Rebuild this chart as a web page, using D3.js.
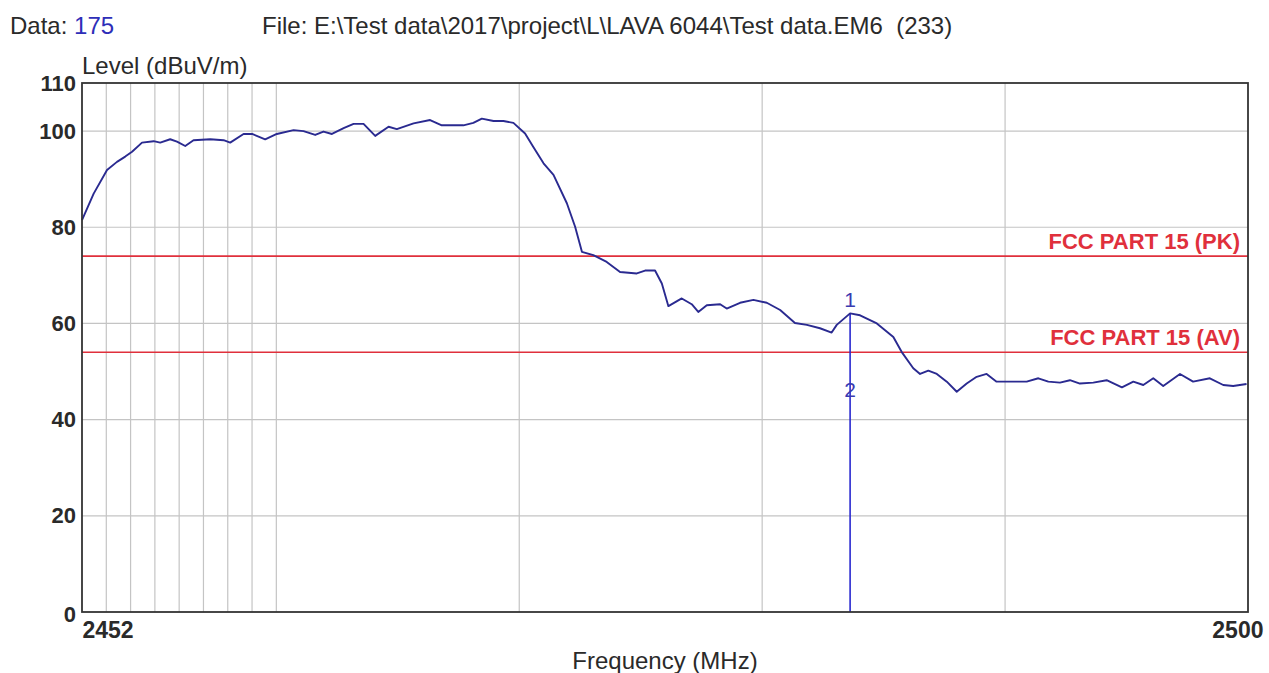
<!DOCTYPE html>
<html>
<head>
<meta charset="utf-8">
<script src="https://cdn.jsdelivr.net/npm/d3@7"></script>
<style>
  html, body { margin: 0; padding: 0; background: #ffffff; }
  svg { display: block; font-family: "Liberation Sans", Arial, sans-serif; }
</style>
</head>
<body>
<svg id="chart" width="1269" height="673"></svg>
<script>
// ---- data ----
const freqs = [
  2452.00, 2452.48, 2453.03, 2453.44, 2453.78, 2454.06, 2454.47, 2454.95, 2455.22, 2455.63,
  2455.91, 2456.25, 2456.59, 2457.28, 2457.83, 2458.10, 2458.65, 2459.00, 2459.54, 2460.02,
  2460.71, 2461.12, 2461.60, 2461.94, 2462.29, 2462.77, 2463.18, 2463.59, 2464.07, 2464.62,
  2464.96, 2465.65, 2466.33, 2466.81, 2467.70, 2468.11, 2468.46, 2468.94, 2469.35, 2469.76,
  2470.24, 2470.58, 2471.00, 2471.41, 2471.96, 2472.30, 2472.58, 2473.05, 2473.60, 2474.15,
  2474.84, 2475.18, 2475.59, 2475.87, 2476.14, 2476.69, 2477.10, 2477.37, 2477.72, 2478.27,
  2478.54, 2479.09, 2479.64, 2480.19, 2480.74, 2481.35, 2481.84, 2482.38, 2482.86, 2483.07,
  2483.62, 2484.03, 2484.72, 2485.40, 2485.74, 2486.22, 2486.50, 2486.84, 2487.19, 2487.60,
  2488.01, 2488.42, 2488.83, 2489.24, 2489.65, 2490.20, 2490.89, 2491.37, 2491.78, 2492.26,
  2492.67, 2493.08, 2493.63, 2494.18, 2494.81, 2495.28, 2495.69, 2496.10, 2496.51, 2497.20,
  2497.74, 2498.43, 2498.98, 2499.39, 2499.94
];
const levels = [
  81.5, 87.0, 91.9, 93.6, 94.7, 95.7, 97.6, 97.9, 97.6, 98.3,
  97.8, 96.9, 98.1, 98.3, 98.1, 97.6, 99.4, 99.4, 98.3, 99.4,
  100.2, 100.0, 99.2, 99.9, 99.4, 100.6, 101.5, 101.5, 99.0, 100.9,
  100.4, 101.6, 102.3, 101.2, 101.2, 101.7, 102.6, 102.1, 102.1, 101.7,
  99.5, 96.7, 93.3, 90.9, 85.0, 80.1, 74.9, 74.2, 72.8, 70.7,
  70.4, 71.0, 71.0, 68.3, 63.6, 65.2, 64.0, 62.4, 63.8, 64.0,
  63.1, 64.3, 64.9, 64.3, 62.8, 60.1, 59.7, 59.0, 58.1, 59.7,
  62.1, 61.7, 60.0, 57.2, 54.1, 50.7, 49.5, 50.2, 49.5, 47.9,
  45.8, 47.5, 48.9, 49.5, 47.9, 47.9, 47.9, 48.6, 47.9, 47.7,
  48.2, 47.5, 47.7, 48.2, 46.7, 47.9, 47.2, 48.6, 47.0, 49.5,
  47.9, 48.6, 47.2, 47.0, 47.4
];
const gridFreqs = [2453, 2454, 2455, 2456, 2457, 2458, 2459, 2460, 2470, 2480, 2490];
const xTickLabels = [2452, 2500];
const yTicks = [0, 20, 40, 60, 80, 100, 110];
const yGrid = [20, 40, 60, 80, 100];
const limitLevels = [74, 54];
const limitNames = ["FCC PART 15 (PK)", "FCC PART 15 (AV)"];
const markerFreq = 2483.62;
const markerLevels = [62.1, 43.5];
const markerNames = ["1", "2"];
const dataCount = "175";
const fileText = "File: E:\\Test data\\2017\\project\\L\\LAVA 6044\\Test data.EM6  (233)";

// ---- layout ----
const L = 82, R = 1248, T = 83, B = 612;
const svg = d3.select("#chart");
const x = d3.scaleLinear().domain([2452, 2500]).range([L, R]);
const y = d3.scaleLinear().domain([0, 110]).range([B, T]);

const textColor = "#2a2a2a";

// header
const hdr = svg.append("text").attr("x", 10).attr("y", 34)
  .attr("font-size", 24).attr("fill", textColor);
hdr.append("tspan").text("Data: ");
hdr.append("tspan").attr("fill", "#2e2eb8").text(dataCount);
svg.append("text").attr("x", 262).attr("y", 34)
  .attr("font-size", 24).attr("fill", textColor)
  .style("white-space", "pre").text(fileText);

// grid
svg.append("g").selectAll("line").data(gridFreqs).join("line")
  .attr("x1", d => x(d)).attr("x2", d => x(d))
  .attr("y1", T).attr("y2", B)
  .attr("stroke", "#c4c4c4").attr("stroke-width", 1.2);
svg.append("g").selectAll("line").data(yGrid).join("line")
  .attr("x1", L).attr("x2", R)
  .attr("y1", d => y(d)).attr("y2", d => y(d))
  .attr("stroke", "#c4c4c4").attr("stroke-width", 1.2);

// limit lines
svg.append("g").selectAll("line").data(limitLevels).join("line")
  .attr("x1", L).attr("x2", R)
  .attr("y1", d => y(d)).attr("y2", d => y(d))
  .attr("stroke", "#e0303c").attr("stroke-width", 1.6);
svg.append("g").selectAll("text").data(limitLevels).join("text")
  .attr("x", R - 8).attr("y", d => y(d) - 7)
  .attr("text-anchor", "end").attr("font-size", 22).attr("font-weight", "bold")
  .attr("fill", "#e0303c").text((d, i) => limitNames[i]);

// marker
svg.append("line")
  .attr("x1", x(markerFreq)).attr("x2", x(markerFreq))
  .attr("y1", y(markerLevels[0])).attr("y2", y(0))
  .attr("stroke", "#2a2ad0").attr("stroke-width", 1.6);
svg.append("g").selectAll("text").data(markerLevels).join("text")
  .attr("x", x(markerFreq)).attr("y", d => y(d) - 6)
  .attr("text-anchor", "middle").attr("font-size", 21)
  .attr("fill", "#3a3ab0").text((d, i) => markerNames[i]);

// curve
const line = d3.line().x((d, i) => x(freqs[i])).y(d => y(d)).curve(d3.curveLinear);
svg.append("path").datum(levels)
  .attr("d", line).attr("fill", "none")
  .attr("stroke", "#2a2a90").attr("stroke-width", 1.9).attr("stroke-linejoin", "round");

// frame
svg.append("rect").attr("x", L).attr("y", T).attr("width", R - L).attr("height", B - T)
  .attr("fill", "none").attr("stroke", "#333").attr("stroke-width", 1.8);

// y axis labels
const yAxis = svg.append("g").attr("transform", `translate(${L},0)`)
  .call(d3.axisLeft(y).tickValues(yTicks).tickSize(0).tickPadding(6).tickFormat(d3.format("d")));
yAxis.select(".domain").remove();
yAxis.selectAll("text").attr("font-size", 22).attr("font-weight", "bold")
  .attr("fill", textColor).attr("font-family", "Liberation Sans, Arial, sans-serif")
  .attr("dy", d => d === 0 ? "0.45em" : "0.32em");

// x axis labels
const xAxis = svg.append("g").attr("transform", `translate(0,${B})`)
  .call(d3.axisBottom(x).tickValues(xTickLabels).tickSize(0).tickPadding(10).tickFormat(d3.format("d")));
xAxis.select(".domain").remove();
xAxis.selectAll("text").attr("font-size", 23).attr("font-weight", "bold")
  .attr("fill", textColor).attr("font-family", "Liberation Sans, Arial, sans-serif")
  .attr("text-anchor", d => d === 2452 ? "start" : "end")
  .attr("dx", d => d === 2452 ? 0 : 15);

// axis titles
svg.append("text").attr("x", L).attr("y", 74).attr("font-size", 24)
  .attr("fill", textColor).text("Level (dBuV/m)");
svg.append("text").attr("x", 665).attr("y", 669).attr("text-anchor", "middle")
  .attr("font-size", 24).attr("fill", textColor).text("Frequency (MHz)");
</script>
</body>
</html>
